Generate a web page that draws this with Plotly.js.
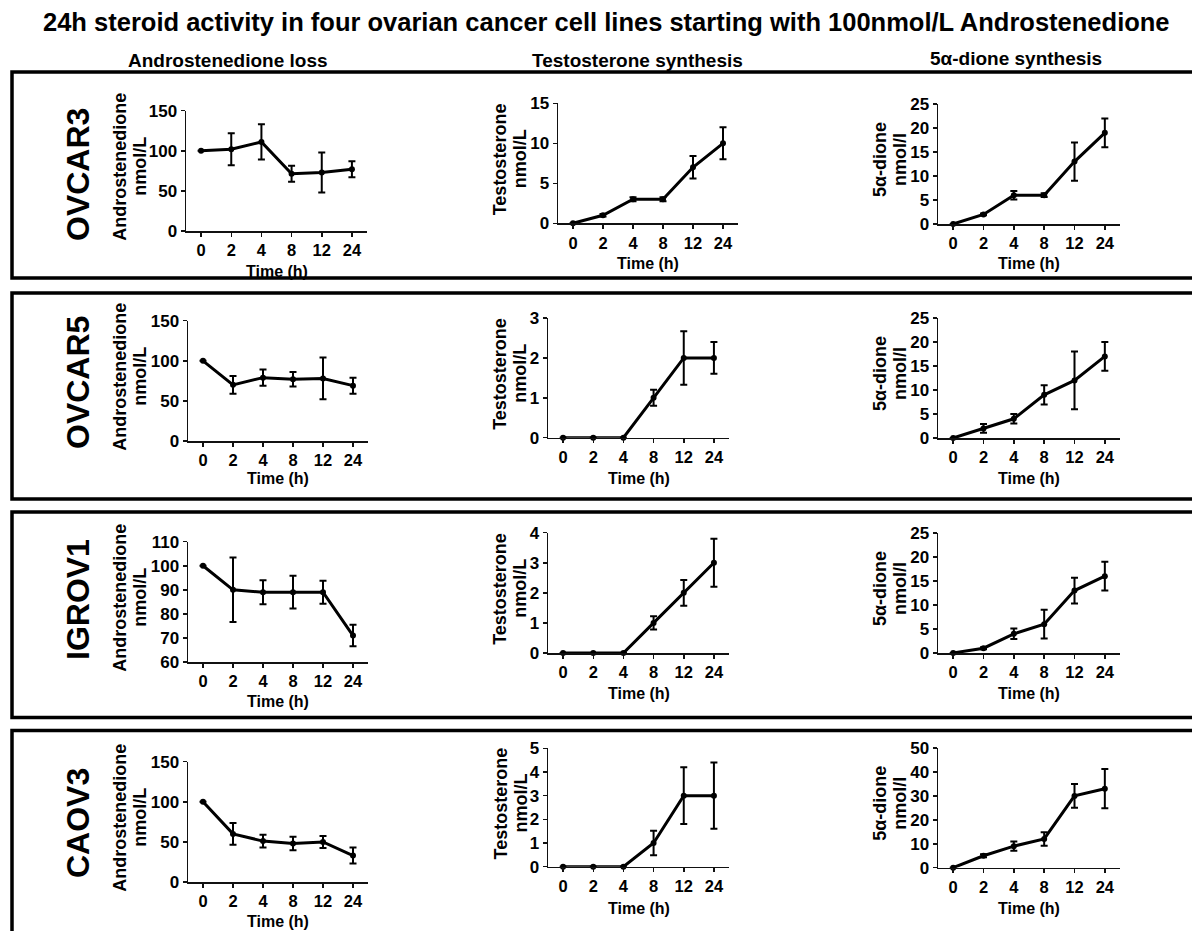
<!DOCTYPE html>
<html>
<head>
<meta charset="utf-8">
<script src="https://cdn.plot.ly/plotly-3.0.1.min.js"></script>
<style>html,body{margin:0;padding:0;background:#fff;}#chart{width:1192px;height:931px;}</style>
</head>
<body>
<div id="chart"></div>
<script>
// ---------- DATA ----------
const timeLabels = ['0', '2', '4', '8', '12', '24'];
const cellLines = ['OVCAR3', 'OVCAR5', 'IGROV1', 'CAOV3'];
const columnTitles = ['Androstenedione loss', 'Testosterone synthesis', '5α-dione synthesis'];
const yTitleLine1 = ['Androstenedione', 'Testosterone', '5α-dione'];
const yTitleLine2 = ['nmol/L', 'nmol/L', 'nmol/l'];
const mainTitle = '24h steroid activity in four ovarian cancer cell lines starting with 100nmol/L Androstenedione';

// OVCAR3
const ovcar3Andro = [100, 102, 111, 71.5, 73, 77];
const ovcar3AndroErr = [0, 20, 22, 10, 25, 10];
const ovcar3Testo = [0, 1, 3, 3, 7, 10];
const ovcar3TestoErr = [0, 0.15, 0.25, 0.25, 1.4, 2];
const ovcar3Dione = [0, 2, 6, 6, 13, 19];
const ovcar3DioneErr = [0, 0.2, 0.9, 0.4, 4, 3];
// OVCAR5
const ovcar5Andro = [100, 70, 79, 77, 78, 69];
const ovcar5AndroErr = [0, 11, 10, 9, 26, 10];
const ovcar5Testo = [0, 0, 0, 1, 2, 2];
const ovcar5TestoErr = [0, 0, 0, 0.2, 0.67, 0.4];
const ovcar5Dione = [0, 2, 4, 9, 12, 17];
const ovcar5DioneErr = [0, 0.9, 1, 2, 6, 3];
// IGROV1
const igrov1Andro = [100, 90, 89, 89, 89, 71];
const igrov1AndroErr = [0, 13.4, 5, 6.8, 4.8, 4.5];
const igrov1Testo = [0, 0, 0, 1, 2, 3];
const igrov1TestoErr = [0, 0, 0, 0.22, 0.43, 0.8];
const igrov1Dione = [0, 1, 4, 6, 13, 16];
const igrov1DioneErr = [0, 0.2, 1.1, 3, 2.7, 3];
// CAOV3
const caov3Andro = [100, 60, 51, 48, 50, 33];
const caov3AndroErr = [0, 13.7, 8, 8.5, 7.5, 10];
const caov3Testo = [0, 0, 0, 1, 3, 3];
const caov3TestoErr = [0, 0, 0, 0.52, 1.2, 1.4];
const caov3Dione = [0, 5, 9, 12, 30, 33];
const caov3DioneErr = [0, 0.6, 1.9, 2.8, 5, 8.2];

// y-axis ranges and tick steps per panel [row][col]
const yRanges = [
  [[0, 150], [0, 15], [0, 25]],
  [[0, 150], [0, 3], [0, 25]],
  [[60, 110], [0, 4], [0, 25]],
  [[0, 150], [0, 5], [0, 50]]
];
const yDticks = [
  [50, 5, 5],
  [50, 1, 5],
  [10, 1, 5],
  [50, 1, 10]
];

const series = [
  [[ovcar3Andro, ovcar3AndroErr], [ovcar3Testo, ovcar3TestoErr], [ovcar3Dione, ovcar3DioneErr]],
  [[ovcar5Andro, ovcar5AndroErr], [ovcar5Testo, ovcar5TestoErr], [ovcar5Dione, ovcar5DioneErr]],
  [[igrov1Andro, igrov1AndroErr], [igrov1Testo, igrov1TestoErr], [igrov1Dione, igrov1DioneErr]],
  [[caov3Andro, caov3AndroErr], [caov3Testo, caov3TestoErr], [caov3Dione, caov3DioneErr]]
];

// ---------- LAYOUT GEOMETRY (pixels) ----------
const W = 1192, H = 931;
const fx = p => p / W;
const fy = p => 1 - p / H;

// plot area x extents per row/col
const xExt = [
  [[186, 367], [558, 738], [938, 1120]],
  [[188, 368], [548, 729], [938, 1120]],
  [[188, 368], [548, 729], [938, 1120]],
  [[188, 368], [548, 729], [938, 1120]]
];
// plot area y extents (top, bottom)
const yExt = [
  [[110.7, 231], [103.3, 223.3], [104, 224]],
  [[320.7, 441], [318, 437.7], [318, 438]],
  [[541.7, 662], [532.7, 653], [533, 653]],
  [[761.7, 882], [748.3, 866.7], [748, 867.7]]
];
const timeTitleY = [[271, 263, 264], [479, 478, 478], [701, 693, 693], [921, 908, 908]];
const yTitleX1 = [120, 500, 880];
const yTitleX2 = [140, 520, 900];
const rowLabelY = [175, 383, 600, 823];
const boxes = [[72, 278], [293, 499], [512, 717.5], [730.5, 960]];

const FONT = 'Liberation Sans, Arial, sans-serif';
const traces = [];
const layout = {
  width: W, height: H,
  margin: {l: 0, r: 0, t: 0, b: 0},
  paper_bgcolor: '#fff', plot_bgcolor: 'rgba(0,0,0,0)',
  showlegend: false,
  font: {family: FONT, color: '#000'},
  annotations: [], shapes: []
};

let k = 0;
for (let r = 0; r < 4; r++) {
  for (let c = 0; c < 3; c++) {
    k++;
    const xa = k === 1 ? 'xaxis' : 'xaxis' + k;
    const ya = k === 1 ? 'yaxis' : 'yaxis' + k;
    const xr = k === 1 ? 'x' : 'x' + k;
    const yr = k === 1 ? 'y' : 'y' + k;
    const [vals, errs] = series[r][c];
    traces.push({
      type: 'scatter', mode: 'lines+markers',
      x: timeLabels, y: vals, xaxis: xr, yaxis: yr,
      line: {color: '#000', width: 3},
      marker: {color: '#000', size: 6, symbol: 'circle'},
      error_y: {type: 'data', array: errs, visible: true, color: '#000', thickness: 2, width: 3.5},
      cliponaxis: false, hoverinfo: 'x+y'
    });
    const [x0, x1] = xExt[r][c];
    const [yt, yb] = yExt[r][c];
    layout[xa] = {
      domain: [fx(x0), fx(x1)], anchor: yr, type: 'category',
      categoryorder: 'array', categoryarray: timeLabels,
      range: [-0.5, 5.5], showline: true, linecolor: '#111', linewidth: 1.5,
      ticks: 'outside', ticklen: 4, tickwidth: 1.5, tickcolor: '#111',
      showgrid: false, zeroline: false, fixedrange: true,
      tickfont: {family: FONT, size: 16.5, weight: 'bold', color: '#000'}
    };
    layout[ya] = {
      domain: [fy(yb), fy(yt)], anchor: xr,
      range: yRanges[r][c], tick0: yRanges[r][c][0], dtick: yDticks[r][c],
      showline: true, linecolor: '#111', linewidth: 1.5,
      ticks: 'outside', ticklen: 4, tickwidth: 1.5, tickcolor: '#111',
      showgrid: false, zeroline: false, fixedrange: true,
      tickfont: {family: FONT, size: 17, weight: 'bold', color: '#000'}
    };
    // x axis title
    layout.annotations.push({
      text: 'Time (h)', xref: 'paper', yref: 'paper',
      x: fx((x0 + x1) / 2), y: fy(timeTitleY[r][c]), xanchor: 'center', yanchor: 'middle',
      showarrow: false, font: {family: FONT, size: 16, weight: 'bold', color: '#000'}
    });
    // y axis title (two lines)
    const yc = fy((yt + yb) / 2 - 4);
    layout.annotations.push({
      text: yTitleLine1[c], xref: 'paper', yref: 'paper', textangle: -90,
      x: fx(yTitleX1[c]), y: yc, xanchor: 'center', yanchor: 'middle',
      showarrow: false, font: {family: FONT, size: 18, weight: 'bold', color: '#000'}
    });
    layout.annotations.push({
      text: yTitleLine2[c], xref: 'paper', yref: 'paper', textangle: -90,
      x: fx(yTitleX2[c]), y: yc, xanchor: 'center', yanchor: 'middle',
      showarrow: false, font: {family: FONT, size: 18, weight: 'bold', color: '#000'}
    });
  }
  // row label
  layout.annotations.push({
    text: cellLines[r], xref: 'paper', yref: 'paper', textangle: -90,
    x: fx(78), y: fy(rowLabelY[r]), xanchor: 'center', yanchor: 'middle',
    showarrow: false, font: {family: FONT, size: 32, weight: 'bold', color: '#000'}
  });
  // row box
  layout.shapes.push({
    type: 'rect', xref: 'paper', yref: 'paper',
    x0: fx(12), x1: fx(1230), y0: fy(boxes[r][1]), y1: fy(boxes[r][0]),
    line: {color: '#000', width: 3.5}, fillcolor: 'rgba(0,0,0,0)', layer: 'above'
  });
}

// main title
layout.annotations.push({
  text: mainTitle, xref: 'paper', yref: 'paper',
  x: fx(606), y: fy(22), xanchor: 'center', yanchor: 'middle', showarrow: false,
  font: {family: FONT, size: 25.5, weight: 'bold', color: '#000'}
});
// column headers
const headerX = [228, 637, 1016];
const headerY = [60, 60, 58];
for (let c = 0; c < 3; c++) {
  layout.annotations.push({
    text: columnTitles[c], xref: 'paper', yref: 'paper',
    x: fx(headerX[c]), y: fy(headerY[c]), xanchor: 'center', yanchor: 'middle', showarrow: false,
    font: {family: FONT, size: 19, weight: 'bold', color: '#000'}
  });
}

Plotly.newPlot('chart', traces, layout, {staticPlot: true, displayModeBar: false});
</script>
</body>
</html>
